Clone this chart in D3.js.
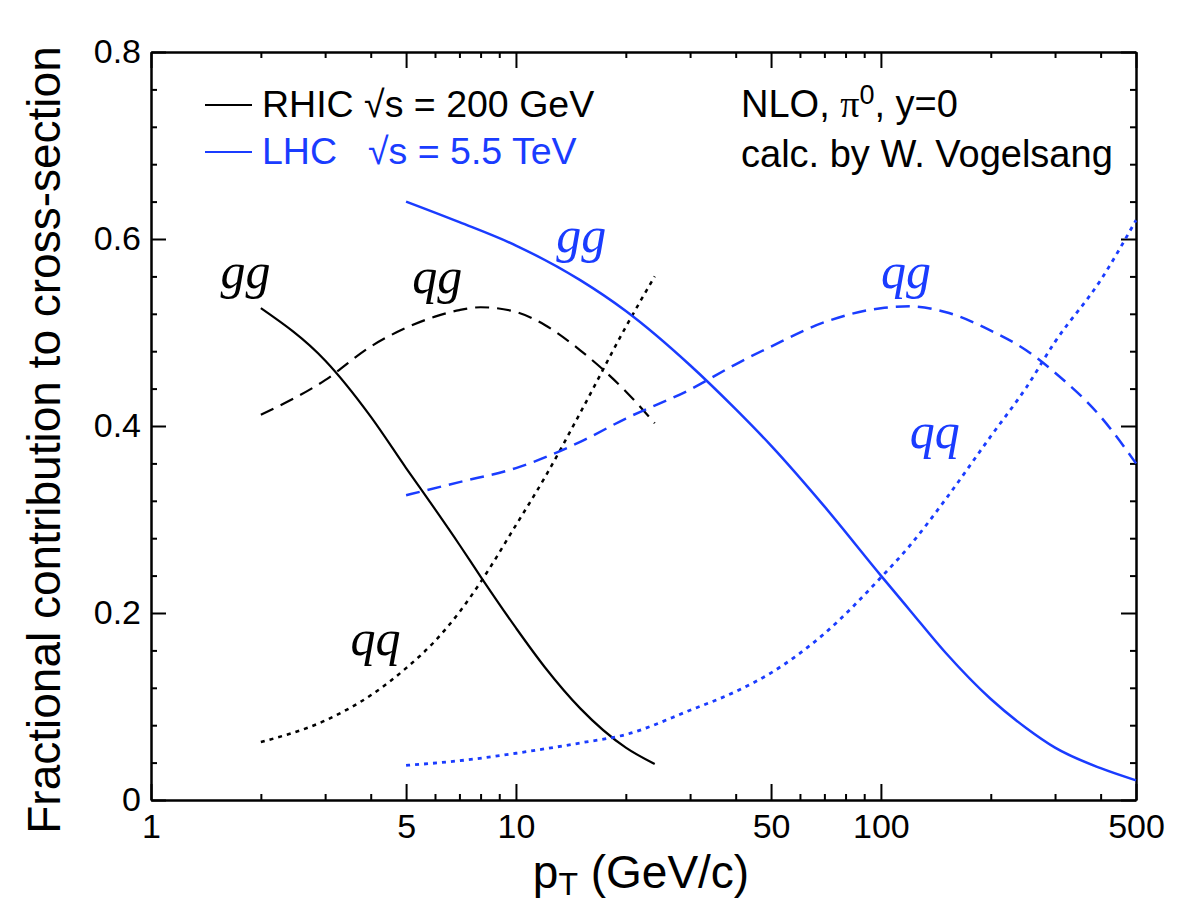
<!DOCTYPE html>
<html>
<head>
<meta charset="utf-8">
<script src="https://cdn.jsdelivr.net/npm/d3@7"></script>
<style>
  html, body { margin: 0; padding: 0; background: #fff; }
  svg { display: block; }
  text { font-family: "Liberation Sans", Arial, sans-serif; }
</style>
</head>
<body>
<svg id="chart" width="1178" height="906"></svg>
<script>
// ---------- data ----------
const rhicPt = [2, 3, 4, 5, 6, 7, 8, 10, 12, 15, 20, 24];
const rhicGG = [0.526, 0.470, 0.410, 0.355, 0.311, 0.273, 0.239, 0.184, 0.142, 0.098, 0.056, 0.0385];
const rhicQG = [0.412, 0.449, 0.485, 0.505, 0.517, 0.524, 0.527, 0.522, 0.508, 0.481, 0.437, 0.403];
const rhicQQ = [0.062, 0.085, 0.112, 0.141, 0.170, 0.201, 0.233, 0.294, 0.345, 0.414, 0.506, 0.560];

const lhcPt = [5, 7, 10, 15, 20, 30, 40, 50, 70, 100, 120, 150, 200, 250, 300, 400, 500];
const lhcGG = [0.640, 0.618, 0.593, 0.556, 0.523, 0.465, 0.418, 0.379, 0.314, 0.240, 0.203, 0.158, 0.108, 0.077, 0.056, 0.034, 0.021];
const lhcQG = [0.326, 0.340, 0.355, 0.383, 0.408, 0.439, 0.466, 0.485, 0.511, 0.526, 0.528, 0.522, 0.502, 0.481, 0.457, 0.410, 0.360];
const lhcQQ = [0.037, 0.042, 0.050, 0.061, 0.070, 0.096, 0.116, 0.136, 0.178, 0.238, 0.272, 0.321, 0.389, 0.441, 0.490, 0.556, 0.620];

const xMajorTicks = [1, 5, 10, 50, 100, 500];
const xMinorTicks = [2, 3, 4, 6, 7, 8, 9, 20, 30, 40, 60, 70, 80, 90, 200, 300, 400];
const yMajorTicks = [0, 0.2, 0.4, 0.6, 0.8];
const yMinorTicks = [0.04, 0.08, 0.12, 0.16, 0.24, 0.28, 0.32, 0.36, 0.44, 0.48, 0.52, 0.56, 0.64, 0.68, 0.72, 0.76];

// curve labels: [text, pT, value, colour]
const curveLabels = [
  ["gg", 1.55, 0.548, "black"],
  ["qg", 5.2, 0.542, "black"],
  ["qq", 3.52, 0.155, "black"],
  ["gg", 12.9, 0.586, "blue"],
  ["qg", 100, 0.548, "blue"],
  ["qq", 120, 0.376, "blue"]
];

// ---------- layout ----------
const BLUE = "#1a3cff";
const colour = { black: "#000", blue: BLUE };
const m = { left: 151, right: 1136, top: 52, bottom: 800 };
const svg = d3.select("#chart");

const x = d3.scaleLog().domain([1, 500]).range([m.left, m.right]);
const y = d3.scaleLinear().domain([0, 0.8]).range([m.bottom, m.top]);

const tickFont = "34px";

function styleAxis(g) {
  g.selectAll(".domain").attr("stroke", "#000").attr("stroke-width", 2);
  g.selectAll(".tick line").attr("stroke", "#000").attr("stroke-width", 2);
  g.selectAll("text").attr("fill", "#000").style("font-size", tickFont)
    .style("font-family", '"Liberation Sans", Arial, sans-serif');
}

// bottom axis
svg.append("g").attr("transform", `translate(0,${m.bottom})`)
  .call(d3.axisBottom(x).tickValues(xMinorTicks).tickSizeInner(-6).tickSizeOuter(0).tickFormat(""))
  .call(styleAxis);
svg.append("g").attr("transform", `translate(0,${m.bottom})`)
  .call(d3.axisBottom(x).tickValues(xMajorTicks).tickSizeInner(-16).tickSizeOuter(0)
    .tickPadding(14).tickFormat(d3.format("d")))
  .call(styleAxis);
// top axis (mirror)
svg.append("g").attr("transform", `translate(0,${m.top})`)
  .call(d3.axisTop(x).tickValues(xMinorTicks).tickSizeInner(-6).tickSizeOuter(0).tickFormat(""))
  .call(styleAxis);
svg.append("g").attr("transform", `translate(0,${m.top})`)
  .call(d3.axisTop(x).tickValues(xMajorTicks).tickSizeInner(-16).tickSizeOuter(0).tickFormat(""))
  .call(styleAxis);
// left axis
svg.append("g").attr("transform", `translate(${m.left},0)`)
  .call(d3.axisLeft(y).tickValues(yMinorTicks).tickSizeInner(-6).tickSizeOuter(0).tickFormat(""))
  .call(styleAxis);
svg.append("g").attr("transform", `translate(${m.left},0)`)
  .call(d3.axisLeft(y).tickValues(yMajorTicks).tickSizeInner(-15).tickSizeOuter(0)
    .tickPadding(10).tickFormat(d => d === 0 ? "0" : d3.format(".1f")(d)))
  .call(styleAxis);
// right axis (mirror)
svg.append("g").attr("transform", `translate(${m.right},0)`)
  .call(d3.axisRight(y).tickValues(yMinorTicks).tickSizeInner(-6).tickSizeOuter(0).tickFormat(""))
  .call(styleAxis);
svg.append("g").attr("transform", `translate(${m.right},0)`)
  .call(d3.axisRight(y).tickValues(yMajorTicks).tickSizeInner(-15).tickSizeOuter(0).tickFormat(""))
  .call(styleAxis);

// ---------- curves ----------
const line = d3.line().x(d => x(d[0])).y(d => y(d[1])).curve(d3.curveMonotoneX);
function curve(pt, vals, col, dash, width) {
  svg.append("path")
    .datum(pt.map((p, i) => [p, vals[i]]))
    .attr("d", line)
    .attr("fill", "none")
    .attr("stroke", col)
    .attr("stroke-width", width)
    .attr("stroke-dasharray", dash);
}
const DASH = "14,8", DOT = "4,5";
curve(rhicPt, rhicGG, "#000", null, 2.2);
curve(rhicPt, rhicQG, "#000", DASH, 2.2);
curve(rhicPt, rhicQQ, "#000", DOT, 2.5);
curve(lhcPt, lhcGG, BLUE, null, 2.5);
curve(lhcPt, lhcQG, BLUE, DASH, 2.5);
curve(lhcPt, lhcQQ, BLUE, DOT, 2.8);

// curve labels
svg.selectAll("text.clabel").data(curveLabels).enter().append("text")
  .attr("class", "clabel")
  .attr("x", d => x(d[1])).attr("y", d => y(d[2]))
  .attr("fill", d => colour[d[3]])
  .style("font-family", '"Liberation Serif", "Times New Roman", serif')
  .style("font-style", "italic")
  .style("font-size", "50px")
  .text(d => d[0]);

// ---------- legend ----------
const lg = svg.append("g");
lg.append("line").attr("x1", 205).attr("x2", 252).attr("y1", 105).attr("y2", 105)
  .attr("stroke", "#000").attr("stroke-width", 2);
lg.append("text").attr("x", 262).attr("y", 117).style("font-size", "37.5px").attr("fill", "#000")
  .text("RHIC \u221As = 200 GeV");
lg.append("line").attr("x1", 205).attr("x2", 252).attr("y1", 152).attr("y2", 152)
  .attr("stroke", BLUE).attr("stroke-width", 2);
lg.append("text").attr("x", 262).attr("y", 164).style("font-size", "37.5px").attr("fill", BLUE)
  .text("LHC");
lg.append("text").attr("x", 368).attr("y", 164).style("font-size", "37.5px").attr("fill", BLUE)
  .text("\u221As = 5.5 TeV");

// ---------- annotation ----------
const an = svg.append("text").attr("x", 741).attr("y", 117).style("font-size", "38px").attr("fill", "#000");
an.append("tspan").text("NLO, ");
an.append("tspan").style("font-family", '"Liberation Serif", "Times New Roman", serif').text("\u03C0");
an.append("tspan").attr("dy", -13).style("font-size", "27px").text("0");
an.append("tspan").attr("dy", 13).text(", y=0");
svg.append("text").attr("x", 741).attr("y", 167).style("font-size", "38px").attr("fill", "#000")
  .text("calc. by W. Vogelsang");

// ---------- axis titles ----------
const xt = svg.append("text").attr("x", 641).attr("y", 888).attr("text-anchor", "middle")
  .style("font-size", "46px").attr("fill", "#000");
xt.append("tspan").text("p");
xt.append("tspan").attr("dy", 7).style("font-size", "32px").text("T");
xt.append("tspan").attr("dy", -7).text(" (GeV/c)");

svg.append("text").attr("transform", "translate(60,440) rotate(-90)")
  .attr("text-anchor", "middle").style("font-size", "46px").attr("fill", "#000")
  .text("Fractional contribution to cross-section");
</script>
</body>
</html>
